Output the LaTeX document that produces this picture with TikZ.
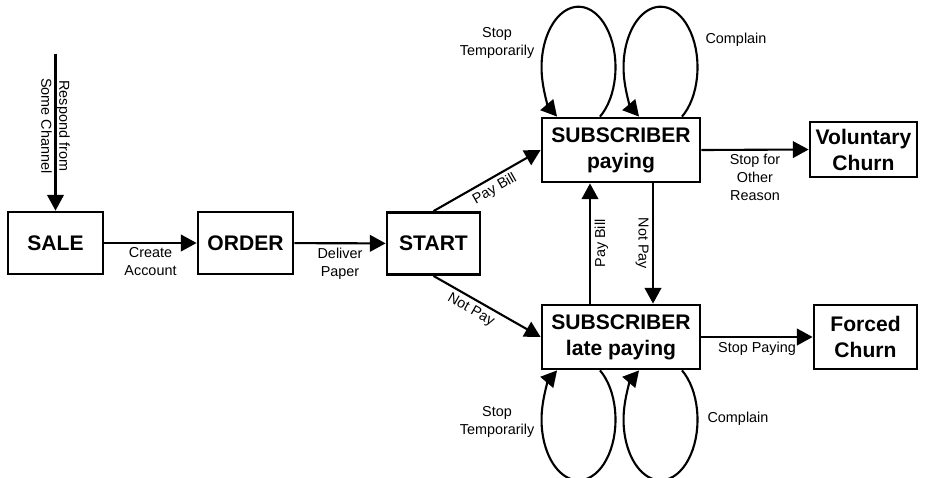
\documentclass[tikz,border=0pt]{standalone}
\usepackage{fontspec}
\setmainfont{Liberation Sans}
\usetikzlibrary{arrows.meta, positioning, calc}
\tikzset{
  % State box
  sbox/.style={
    rectangle, draw=black, line width=1.6pt,
    align=center, inner sep=2pt,
    minimum width=1.9cm, minimum height=1.24cm,
    font=\fontsize{12}{14.8}\selectfont\bfseries
  },
  % Wide state box
  sbox wide/.style={sbox, minimum width=3.16cm, minimum height=1.28cm},
  % Arrows
  arr/.style={-{Triangle[length=9pt,width=9.5pt]}, line width=1.2pt},
  % Self loop (elliptic arc)
  loop arc/.style={x radius=0.74cm, y radius=1.212cm},
  % Edge label
  elabel/.style={font=\fontsize{8.2}{10.2}\selectfont, align=center, inner sep=2pt},
}

\begin{document}
\begin{tikzpicture}[x=0.02cm, y=-0.02cm]
  \useasboundingbox (0,0) rectangle (925,477);

  % States
  \node[sbox] (sale) at (55.5,243) {SALE};
  \node[sbox] (order) at (245.5,243) {ORDER};
  \node[sbox, minimum width=1.86cm] (start) at (433.5,243.5) {START};
  \node[sbox wide] (pay) at (621,150) {SUBSCRIBER\\paying};
  \node[sbox wide] (late) at (621,337) {SUBSCRIBER\\late paying};
  \node[sbox, minimum width=2.14cm, minimum height=1.1cm] (vol) at (863.5,149.5) {Voluntary\\Churn};
  \node[sbox, minimum width=2.06cm, minimum height=1.28cm] (forced) at (865.5,337) {Forced\\Churn};

  % Entry
  \coordinate (entry) at ($(sale.north)+(0,-157)$);
  \draw[arr] (entry) -- node[elabel, sloped, pos=0.46] {Respond from\\Some Channel} (sale.north);

  % Main flow
  \draw[arr] (sale) -- node[elabel, below] {Create\\Account} (order);
  \draw[arr] (order) -- node[elabel, below] {Deliver\\Paper} (start);
  \draw[arr] (start.north) -- node[elabel, sloped, below, pos=0.52] {Pay Bill} (pay.west);
  \draw[arr] (start.south) -- node[elabel, sloped, below, pos=0.4] {Not Pay} (late.west);

  % Between subscriber states
  \draw[arr] ($(late.north)+(-31,0)$) -- node[elabel, sloped, below] {Pay Bill} ($(pay.south)+(-31,0)$);
  \draw[arr] ($(pay.south)+(32,0)$) -- node[elabel, sloped, below] {Not Pay} ($(late.north)+(32,0)$);

  % Churn
  \draw[arr] (pay.east) -- node[elabel, below] {Stop for\\Other\\Reason} (vol.west);
  \draw[arr] (late.east) -- node[elabel, below] {Stop Paying} (forced.west);

  % Self loops on paying
  \draw[arr] ($(pay.north)+(-21,0)$) arc[loop arc, start angle=-54.5, end angle=234.5];
  \draw[arr] ($(pay.north)+(61,0)$) arc[loop arc, start angle=-54.5, end angle=234.5];
  \node[elabel] (paystop) at (497,43) {Stop\\Temporarily};
  \node[elabel] (paycomp) at (736,40) {Complain};

  % Self loops on late paying
  \draw[arr] ($(late.south)+(-21,0)$) arc[loop arc, start angle=54.5, end angle=-234.5];
  \draw[arr] ($(late.south)+(61,0)$) arc[loop arc, start angle=54.5, end angle=-234.5];
  \node[elabel] (latestop) at (497,422) {Stop\\Temporarily};
  \node[elabel] (latecomp) at (738,419) {Complain};
\end{tikzpicture}
\end{document}
